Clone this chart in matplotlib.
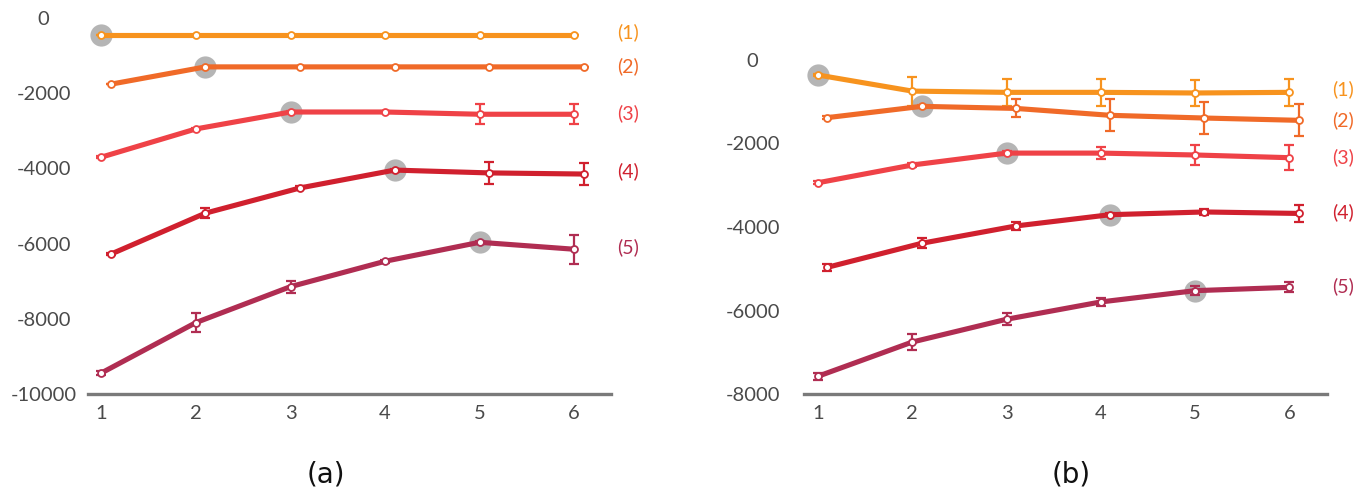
import matplotlib
matplotlib.use("Agg")
import matplotlib.pyplot as plt
import numpy as np

x_steps = [1, 2, 3, 4, 5, 6]
series_names = ["(1)", "(2)", "(3)", "(4)", "(5)"]
colors = ["#F7931E", "#F06A28", "#EF4247", "#D0202E", "#B02D52"]
x_offsets = [0.0, 0.1, 0.0, 0.1, 0.0]
best_index = [0, 1, 2, 3, 4]  # highlighted point per series (index into x_steps)

# Panel (a)
a_vals = [
    [-450, -450, -450, -450, -450, -450],
    [-1760, -1300, -1300, -1300, -1300, -1300],
    [-3700, -2950, -2500, -2500, -2560, -2560],
    [-6280, -5190, -4520, -4045, -4120, -4150],
    [-9440, -8100, -7145, -6470, -5965, -6150],
]
a_err = [
    [0, 0, 0, 0, 0, 0],
    [0, 0, 0, 0, 0, 0],
    [30, 30, 30, 30, 260, 260],
    [30, 130, 40, 40, 290, 290],
    [50, 250, 160, 40, 40, 380],
]
a_label_y = [-372, -1277, -2527, -4069, -6090]
a_yticks = [0, -2000, -4000, -6000, -8000, -10000]
a_ylim = (-10000, 0)

# Panel (b)
b_vals = [
    [-360, -745, -775, -775, -790, -775],
    [-1380, -1110, -1160, -1325, -1390, -1445],
    [-2940, -2515, -2230, -2230, -2275, -2340],
    [-4965, -4390, -3975, -3705, -3640, -3675],
    [-7575, -6755, -6210, -5795, -5525, -5445],
]
b_err = [
    [20, 345, 330, 330, 320, 330],
    [40, 40, 215, 380, 390, 385],
    [40, 40, 40, 150, 230, 305],
    [85, 120, 100, 40, 80, 200],
    [80, 185, 145, 100, 100, 120],
]
b_label_y = [-695, -1437, -2323, -3641, -5413]
b_yticks = [0, -2000, -4000, -6000, -8000]
b_ylim = (-8000, 0)

plt.rcParams['font.family'] = ['Lato', 'DejaVu Sans']
W, H = 1362, 492
fig = plt.figure(figsize=(W / 100, H / 100), dpi=100)

def px_axes(l, r, t, b):
    return fig.add_axes([l / W, 1 - b / H, (r - l) / W, (b - t) / H])

ax_a = px_axes(88, 611, 18, 394)
ax_b = px_axes(804, 1327, 60, 394)

def draw(ax, vals, errs, label_y, yticks, ylim, xlim, ypad):
    for i, (v, e) in enumerate(zip(vals, errs)):
        xs = np.array(x_steps, dtype=float) + x_offsets[i]
        c = colors[i]
        bi = best_index[i]
        ax.plot([xs[bi]], [v[bi]], 'o', ms=16, color="#B5B5B5", zorder=1,
                markeredgewidth=0, clip_on=False)
        ax.errorbar(xs, v, yerr=e, fmt='none', ecolor=c, elinewidth=1.6,
                    capsize=3.6, capthick=1.6, zorder=2, clip_on=False)
        ax.plot(xs, v, '-', color=c, lw=3.7, zorder=3, solid_capstyle='round',
                clip_on=False)
        ax.plot(xs, v, 'o', ms=5, mfc='white', mec=c, mew=1.3, zorder=4,
                clip_on=False)
        ax.text(6.45, label_y[i], series_names[i], color=c, fontsize=14,
                ha='left', va='center')
    ax.set_xlim(*xlim)
    ax.set_ylim(*ylim)
    ax.set_xticks(x_steps)
    ax.set_yticks(yticks)
    ax.set_yticklabels([str(t) for t in yticks])
    for s in ['top', 'right', 'left']:
        ax.spines[s].set_visible(False)
    ax.spines['bottom'].set_color('#7A7A7A')
    ax.spines['bottom'].set_linewidth(2.4)
    ax.tick_params(axis='both', length=0, labelsize=14.5, labelcolor='#4A4A4A')
    ax.tick_params(axis='x', pad=8)
    ax.tick_params(axis='y', pad=ypad)
    for lab in ax.get_yticklabels():
        lab.set_horizontalalignment('center')
    ax.patch.set_alpha(0)

draw(ax_a, a_vals, a_err, a_label_y, a_yticks, a_ylim, (0.858, 6.39), 32)
draw(ax_b, b_vals, b_err, b_label_y, b_yticks, b_ylim, (0.851, 6.40), 37)

fig.text(326 / W, 1 - 474 / H, "(a)", fontsize=20, ha='center', va='center',
         family='DejaVu Sans', color='#111111')
fig.text(1071 / W, 1 - 474 / H, "(b)", fontsize=20, ha='center', va='center',
         family='DejaVu Sans', color='#111111')

fig.savefig("out.png", dpi=100)
